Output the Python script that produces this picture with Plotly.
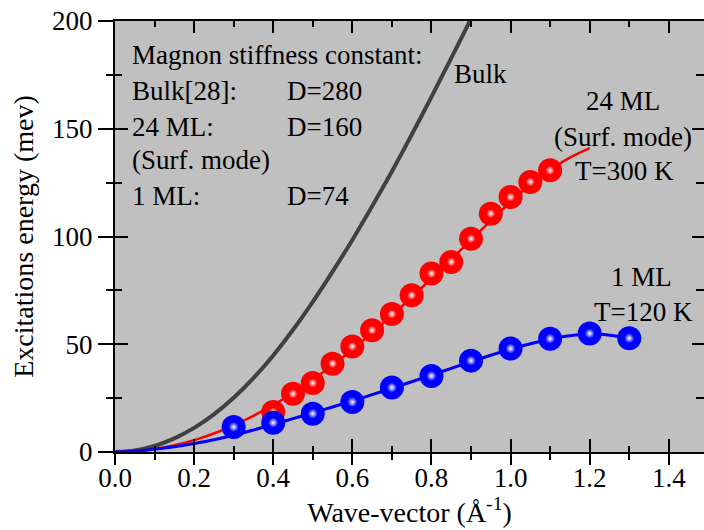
import plotly.graph_objects as go

# ---------------- data ----------------
x_tick_vals = [0.0, 0.2, 0.4, 0.6, 0.8, 1.0, 1.2, 1.4]
x_tick_text = ["0.0", "0.2", "0.4", "0.6", "0.8", "1.0", "1.2", "1.4"]
y_tick_vals = [0, 50, 100, 150, 200]
y_tick_text = ["0", "50", "100", "150", "200"]

# Bulk curve (D=280)
bulk_q = [0.0, 0.05, 0.1, 0.15, 0.2, 0.25, 0.3, 0.35, 0.4, 0.45, 0.5, 0.55,
          0.6, 0.65, 0.7, 0.75, 0.8, 0.85, 0.9]
bulk_E = [0.0, 0.7, 2.8, 6.3, 11.2, 17.5, 25.2, 34.3, 44.8, 56.7, 69.7, 83.7,
          98.4, 114.0, 130.2, 147.2, 164.8, 182.8, 201.0]

# 24 ML fit curve
ml24_fit_q = [0.0, 0.05, 0.1, 0.15, 0.2, 0.25, 0.3, 0.35, 0.4, 0.45, 0.5, 0.55,
              0.6, 0.65, 0.7, 0.75, 0.8, 0.85, 0.9, 0.95, 1.0, 1.05, 1.1, 1.15, 1.2]
ml24_fit_E = [0.0, 0.4, 1.4, 3.1, 5.5, 8.6, 12.4, 16.8, 21.8, 27.4, 33.6, 40.3,
              47.6, 55.3, 63.4, 71.8, 80.5, 89.4, 98.4, 107.4, 116.0, 124.0, 131.0,
              136.6, 141.0]

# 24 ML measured points
ml24_q = [0.4, 0.45, 0.5, 0.55, 0.6, 0.65, 0.7, 0.75, 0.8, 0.85, 0.9, 0.95, 1.0, 1.05, 1.1]
ml24_E = [18.6, 27.0, 32.0, 41.0, 49.0, 56.5, 64.0, 72.7, 82.8, 88.2, 99.0, 110.6,
          118.3, 125.3, 130.7]

# 1 ML fit curve
ml1_fit_q = [0.0, 0.05, 0.1, 0.15, 0.2, 0.25, 0.3, 0.35, 0.4, 0.45, 0.5, 0.55,
             0.6, 0.65, 0.7, 0.75, 0.8, 0.85, 0.9, 0.95, 1.0, 1.05, 1.1, 1.15,
             1.2, 1.25, 1.3]
ml1_fit_E = [0.0, 0.4, 1.3, 2.4, 3.9, 5.7, 7.8, 10.2, 12.8, 15.5, 18.2, 20.9,
             23.7, 26.6, 29.6, 32.6, 35.7, 38.8, 41.9, 44.9, 47.7, 50.2, 52.3,
             53.9, 54.7, 54.2, 53.0]

# 1 ML measured points
ml1_q = [0.3, 0.4, 0.5, 0.6, 0.7, 0.8, 0.9, 1.0, 1.1, 1.2, 1.3]
ml1_E = [11.6, 13.6, 17.8, 23.2, 29.9, 35.3, 42.4, 48.0, 52.6, 55.0, 52.8]

FONT = "Liberation Serif, Times New Roman, serif"
X_RANGE = [0, 1.489]
Y_RANGE = [0, 200]

fig = go.Figure()

fig.add_trace(go.Scatter(x=bulk_q, y=bulk_E, mode="lines",
                         line=dict(color="#404040", width=4, shape="spline", smoothing=0.8),
                         hoverinfo="skip", showlegend=False))
fig.add_trace(go.Scatter(x=ml24_fit_q, y=ml24_fit_E, mode="lines",
                         line=dict(color="#ff0000", width=2.5, shape="spline", smoothing=0.8),
                         hoverinfo="skip", showlegend=False))
fig.add_trace(go.Scatter(x=ml1_fit_q, y=ml1_fit_E, mode="lines",
                         line=dict(color="#0000ff", width=3, shape="spline", smoothing=0.8),
                         hoverinfo="skip", showlegend=False))

# balls
fig.add_trace(go.Scatter(x=ml24_q, y=ml24_E, mode="markers",
                         marker=dict(size=24, color="#ff0000", line=dict(width=0)),
                         showlegend=False))
fig.add_trace(go.Scatter(x=ml24_q, y=ml24_E, mode="markers",
                         marker=dict(size=9, color="#ff0000", line=dict(width=0),
                                     gradient=dict(type="radial", color="#ffffff")),
                         hoverinfo="skip", showlegend=False))
fig.add_trace(go.Scatter(x=ml1_q, y=ml1_E, mode="markers",
                         marker=dict(size=24, color="#0000ff", line=dict(width=0)),
                         showlegend=False))
fig.add_trace(go.Scatter(x=ml1_q, y=ml1_E, mode="markers",
                         marker=dict(size=10, color="#0000ff", line=dict(width=0),
                                     gradient=dict(type="radial", color="#ffffff")),
                         hoverinfo="skip", showlegend=False))

# invisible traces that activate the overlay axes (crossing / mirrored ticks)
for xa, ya in [("x2", "y2"), ("x3", "y3"), ("x4", "y")]:
    fig.add_trace(go.Scatter(x=[None], y=[None], xaxis=xa, yaxis=ya,
                             mode="markers", showlegend=False, hoverinfo="skip"))

tickfont = dict(family=FONT, size=27, color="black")

common_x = dict(range=X_RANGE, tickvals=x_tick_vals, showgrid=False, zeroline=False)
common_y = dict(range=Y_RANGE, tickvals=y_tick_vals, showgrid=False, zeroline=False)

fig.update_layout(
    width=704, height=530,
    margin=dict(l=115, r=0, t=21, b=78),
    paper_bgcolor="white",
    plot_bgcolor="#c0c0c0",
    font=dict(family=FONT, size=27, color="black"),
    # bottom axis: labels (short ticks so labels sit close to the axis)
    xaxis=dict(**common_x, ticktext=x_tick_text, ticks="outside", ticklen=2,
               tickwidth=2, tickcolor="black", showline=True, linewidth=2,
               linecolor="black", tickfont=tickfont, ticklabelstandoff=-1,
               title=dict(text="Wave-vector (Å<sup>-1</sup>)",
                          font=dict(family=FONT, size=28), standoff=10)),
    # bottom axis: outside tick marks
    xaxis4=dict(**common_x, overlaying="x", anchor="y", side="bottom",
                ticks="outside", ticklen=12, tickwidth=2, tickcolor="black",
                showticklabels=False, showline=False,
                minor=dict(dtick=0.1, tick0=0, ticks="outside", ticklen=7,
                           tickwidth=2, tickcolor="black")),
    # bottom axis: inside tick marks
    xaxis2=dict(**common_x, overlaying="x", anchor="y", side="bottom",
                ticks="inside", ticklen=13, tickwidth=2, tickcolor="black",
                showticklabels=False, showline=False,
                minor=dict(dtick=0.1, tick0=0, ticks="inside", ticklen=6,
                           tickwidth=2, tickcolor="black")),
    xaxis3=dict(**common_x, overlaying="x", anchor="y", side="top",
                ticks="inside", ticklen=12, tickwidth=2, tickcolor="black",
                showticklabels=False, showline=True, linewidth=2, linecolor="black",
                minor=dict(dtick=0.1, tick0=0, ticks="inside", ticklen=6,
                           tickwidth=2, tickcolor="black")),
    yaxis=dict(**common_y, ticktext=y_tick_text, ticks="outside", ticklen=15,
               tickwidth=2, tickcolor="black", showline=True, linewidth=2,
               linecolor="black", tickfont=tickfont,
               minor=dict(dtick=25, tick0=0, ticks="outside", ticklen=7,
                          tickwidth=2, tickcolor="black"),
               title=dict(text="Excitations energy (mev)",
                          font=dict(family=FONT, size=28), standoff=10)),
    yaxis2=dict(**common_y, overlaying="y", anchor="x", side="left",
                ticks="inside", ticklen=13, tickwidth=2, tickcolor="black",
                showticklabels=False, showline=False,
                minor=dict(dtick=25, tick0=0, ticks="inside", ticklen=7,
                           tickwidth=2, tickcolor="black")),
    yaxis3=dict(**common_y, overlaying="y", anchor="x", side="right",
                ticks="inside", ticklen=12, tickwidth=2, tickcolor="black",
                showticklabels=False, showline=True, linewidth=2, linecolor="black",
                minor=dict(dtick=25, tick0=0, ticks="inside", ticklen=8,
                           tickwidth=2, tickcolor="black")),
)

ann_font = dict(family=FONT, size=27, color="black")
left_labels = [
    ("Magnon stiffness constant:", 184.0),
    ("Bulk[28]:", 167.4),
    ("24 ML:", 150.7),
    ("(Surf. mode)", 135.4),
    ("1 ML:", 118.7),
]
for txt, yv in left_labels:
    fig.add_annotation(x=0.038, y=yv, text=txt, showarrow=False, xanchor="left",
                       yanchor="middle", font=ann_font)
d_labels = [("D=280", 167.4), ("D=160", 150.7), ("D=74", 118.7)]
for txt, yv in d_labels:
    fig.add_annotation(x=0.43, y=yv, text=txt, showarrow=False, xanchor="left",
                       yanchor="middle", font=ann_font)

center_labels = [
    ("Bulk", 0.852, 175.6, "left"),
    ("24 ML", 1.284, 163.0, "center"),
    ("(Surf. mode)", 1.284, 146.2, "center"),
    ("T=300 K", 1.287, 130.5, "center"),
    ("1 ML", 1.332, 81.2, "center"),
    ("T=120 K", 1.335, 65.0, "center"),
]
for txt, xv, yv, xa in center_labels:
    fig.add_annotation(x=xv, y=yv, text=txt, showarrow=False, xanchor=xa,
                       yanchor="middle", font=ann_font)

fig.write_html("out.html")
